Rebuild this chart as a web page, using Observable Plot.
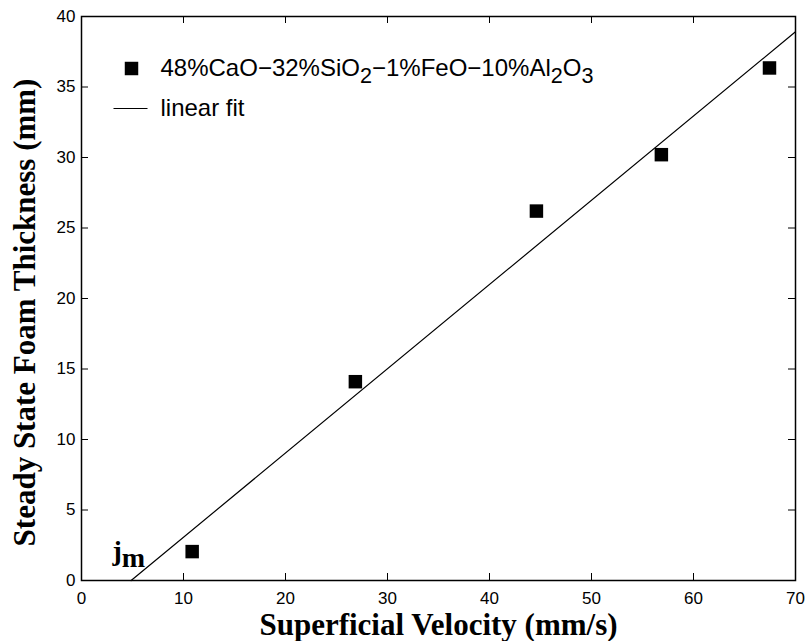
<!DOCTYPE html>
<html><head><meta charset="utf-8">
<script src="https://cdn.jsdelivr.net/npm/d3@7"></script>
<script src="https://cdn.jsdelivr.net/npm/@observablehq/plot@0.6"></script>
<style>body{margin:0;background:#fff} #chart{width:806px;height:641px}</style>
</head><body><div id="chart"></div>
<script>
// ---- data ----
const velocity  = [10.85, 26.85, 44.6, 56.85, 67.45];   // mm/s
const thickness = [2.05, 14.1, 26.2, 30.2, 36.35];     // mm
const xTicks = [0, 10, 20, 30, 40, 50, 60, 70];
const yTicks = [0, 5, 10, 15, 20, 25, 30, 35, 40];
const seriesParts = [["48%CaO−32%SiO", 0], ["2", 1], ["−1%FeO−10%Al", 0], ["2", 1], ["O", 0], ["3", 1]];
const fitLabel = "linear fit";
const xLabel = "Superficial Velocity (mm/s)";
const yLabel = "Steady State Foam Thickness (mm)";
const annotParts = [["j", 0], ["m", 1]];

const data = velocity.map((v, i) => ({v, t: thickness[i]}));
// least-squares linear fit, drawn from y = 0 to the right edge of the x domain
const mx = d3.mean(velocity), my = d3.mean(thickness);
const slope = d3.sum(data, d => (d.v - mx) * (d.t - my)) / d3.sum(data, d => (d.v - mx) ** 2);
const icpt = my - slope * mx;
const xMax = d3.max(xTicks);
const fit = [{v: -icpt / slope, t: 0}, {v: xMax, t: slope * xMax + icpt}];

const W = 806, H = 641, mL = 81, mR = 11, mT = 16, mB = 61;
const pw = W - mL - mR, ph = H - mT - mB, tk = 7;
const sans = "Liberation Sans, Arial, Helvetica, sans-serif";
const serif = "Liberation Serif, Times New Roman, serif";

const lineSymbol = {draw(ctx, size) { const w = Math.sqrt(size / Math.PI); ctx.moveTo(-w, 0); ctx.lineTo(w, 0); }};

const chart = Plot.plot({
  width: W, height: H,
  marginLeft: mL, marginRight: mR, marginTop: mT, marginBottom: mB,
  style: {fontFamily: sans, background: "#fff", color: "#000"},
  x: {domain: [0, xMax]},
  y: {domain: [0, d3.max(yTicks)]},
  marks: [
    Plot.axisX(xTicks, {tickSize: 0, tickPadding: 11, fontSize: 17, label: null}),
    Plot.axisY(yTicks, {tickSize: 0, tickPadding: 6, fontSize: 17, label: null}),
    Plot.tickX(xTicks.slice(1, -1), {x: d => d, insetTop: ph - tk, stroke: "#000"}),
    Plot.tickX(xTicks.slice(1, -1), {x: d => d, insetBottom: ph - tk, stroke: "#000"}),
    Plot.tickY(yTicks.slice(1, -1), {y: d => d, insetRight: pw - tk, stroke: "#000"}),
    Plot.tickY(yTicks.slice(1, -1), {y: d => d, insetLeft: pw - tk, stroke: "#000"}),
    Plot.line(fit, {x: "v", y: "t", stroke: "#000", strokeWidth: 1.2}),
    Plot.dot(data, {x: "v", y: "t", symbol: "square", r: 7.6, fill: "#000", stroke: null}),
    // legend
    Plot.dot([0], {frameAnchor: "top-left", dx: 50, dy: 52, symbol: "square", r: 7.6, fill: "#000", stroke: null}),
    Plot.dot([0], {frameAnchor: "top-left", dx: 49, dy: 92, symbol: lineSymbol, r: 17, stroke: "#000", strokeWidth: 1.2}),
    Plot.text([seriesParts.map(p => p[0]).join("")], {frameAnchor: "top-left", dx: 79, dy: 52, textAnchor: "start", lineAnchor: "middle", fontSize: 24, className: "legend-series"}),
    Plot.text([fitLabel], {frameAnchor: "top-left", dx: 79, dy: 92, textAnchor: "start", lineAnchor: "middle", fontSize: 24}),
    // annotation
    Plot.text([annotParts.map(p => p[0]).join("")], {frameAnchor: "bottom-left", dx: 31, dy: -21, textAnchor: "start", lineAnchor: "bottom", fontSize: 28, fontWeight: "bold", fontFamily: serif, className: "annot-j"}),
    // axis titles
    Plot.text([xLabel], {frameAnchor: "bottom", dy: 54, textAnchor: "middle", lineAnchor: "bottom", fontSize: 31, fontWeight: "bold", fontFamily: serif}),
    Plot.text([yLabel], {frameAnchor: "left", dx: -47, dy: 14, rotate: -90, textAnchor: "middle", lineAnchor: "bottom", fontSize: 31, fontWeight: "bold", fontFamily: serif}),
    Plot.frame({stroke: "#000", strokeWidth: 1.5})
  ]
});
document.getElementById("chart").appendChild(chart);

function subscriptify(sel, parts, shift, scale) {
  chart.querySelectorAll(sel + " text").forEach(t => {
    t.textContent = "";
    let prev = 0;
    for (const [s, sub] of parts) {
      const ts = document.createElementNS("http://www.w3.org/2000/svg", "tspan");
      ts.textContent = s;
      const dyv = (sub ? shift : 0) - (prev ? shift : 0);
      if (dyv) ts.setAttribute("dy", dyv);
      if (sub) ts.setAttribute("font-size", scale);
      t.appendChild(ts);
      prev = sub;
    }
  });
}
subscriptify(".legend-series", seriesParts, 7, "0.9em");
subscriptify(".annot-j", annotParts, 7, "1em");
</script></body></html>
